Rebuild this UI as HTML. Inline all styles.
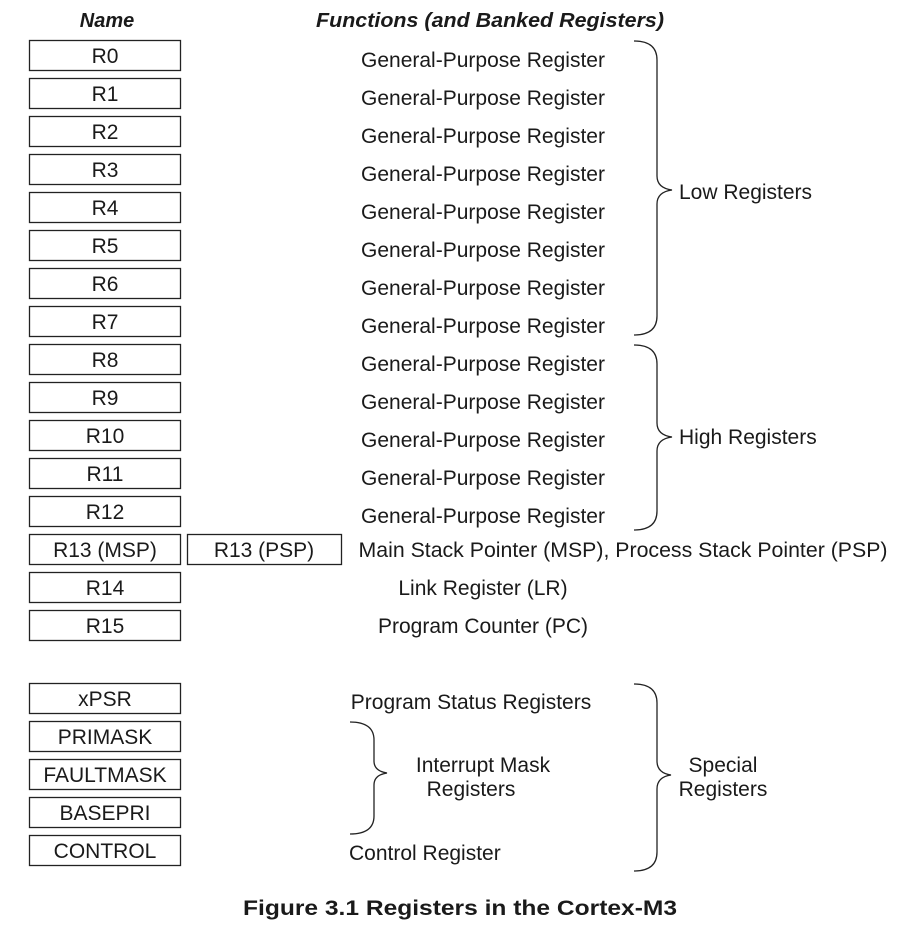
<!DOCTYPE html>
<html><head><meta charset="utf-8"><style>
html,body{margin:0;padding:0;background:#fff;}
svg{display:block;}
text{font-family:"Liberation Sans",Arial,sans-serif;fill:#1a1a1a;}
</style></head><body>
<svg width="922" height="932" viewBox="0 0 922 932" xmlns="http://www.w3.org/2000/svg">
<g font-size="20" font-style="italic" font-weight="bold">
<text x="107" y="27" text-anchor="middle">Name</text>
<text x="490" y="27" text-anchor="middle" textLength="348" lengthAdjust="spacingAndGlyphs">Functions (and Banked Registers)</text>
</g>
<g fill="none" stroke="#222" stroke-width="1.3">
<rect x="29.5" y="40.5" width="151" height="30"/>
<rect x="29.5" y="78.5" width="151" height="30"/>
<rect x="29.5" y="116.5" width="151" height="30"/>
<rect x="29.5" y="154.5" width="151" height="30"/>
<rect x="29.5" y="192.5" width="151" height="30"/>
<rect x="29.5" y="230.5" width="151" height="30"/>
<rect x="29.5" y="268.5" width="151" height="30"/>
<rect x="29.5" y="306.5" width="151" height="30"/>
<rect x="29.5" y="344.5" width="151" height="30"/>
<rect x="29.5" y="382.5" width="151" height="30"/>
<rect x="29.5" y="420.5" width="151" height="30"/>
<rect x="29.5" y="458.5" width="151" height="30"/>
<rect x="29.5" y="496.5" width="151" height="30"/>
<rect x="29.5" y="534.5" width="151" height="30"/>
<rect x="187.5" y="534.5" width="154" height="30"/>
<rect x="29.5" y="572.5" width="151" height="30"/>
<rect x="29.5" y="610.5" width="151" height="30"/>
<rect x="29.5" y="683.5" width="151" height="30"/>
<rect x="29.5" y="721.5" width="151" height="30"/>
<rect x="29.5" y="759.5" width="151" height="30"/>
<rect x="29.5" y="797.5" width="151" height="30"/>
<rect x="29.5" y="835.5" width="151" height="30"/>
<path d="M634 41 Q657 41 657 60 L657 176 Q657 188 672 190 Q657 192 657 204 L657 316 Q657 335 634 335"/>
<path d="M634 345 Q657 345 657 364 L657 423 Q657 435 672 437 Q657 439 657 451 L657 511 Q657 530 634 530"/>
<path d="M634 684 Q657 684 657 703 L657 761 Q657 773 671 775 Q657 777 657 789 L657 852 Q657 871 634 871"/>
<path d="M350 722 Q374 722 374 740 L374 761 Q374 771 387 773 Q374 775 374 785 L374 816 Q374 834 350 834"/>
</g>
<g font-size="21" text-anchor="middle">
<text x="105" y="63">R0</text>
<text x="105" y="101">R1</text>
<text x="105" y="139">R2</text>
<text x="105" y="177">R3</text>
<text x="105" y="215">R4</text>
<text x="105" y="253">R5</text>
<text x="105" y="291">R6</text>
<text x="105" y="329">R7</text>
<text x="105" y="367">R8</text>
<text x="105" y="405">R9</text>
<text x="105" y="443">R10</text>
<text x="105" y="481">R11</text>
<text x="105" y="519">R12</text>
<text x="105" y="557">R13 (MSP)</text>
<text x="264" y="557">R13 (PSP)</text>
<text x="105" y="595">R14</text>
<text x="105" y="633">R15</text>
<text x="105" y="706">xPSR</text>
<text x="105" y="744">PRIMASK</text>
<text x="105" y="782">FAULTMASK</text>
<text x="105" y="820">BASEPRI</text>
<text x="105" y="858">CONTROL</text>
</g>
<g font-size="21" text-anchor="middle">
<text x="483" y="67">General-Purpose Register</text>
<text x="483" y="105">General-Purpose Register</text>
<text x="483" y="143">General-Purpose Register</text>
<text x="483" y="181">General-Purpose Register</text>
<text x="483" y="219">General-Purpose Register</text>
<text x="483" y="257">General-Purpose Register</text>
<text x="483" y="295">General-Purpose Register</text>
<text x="483" y="333">General-Purpose Register</text>
<text x="483" y="371">General-Purpose Register</text>
<text x="483" y="409">General-Purpose Register</text>
<text x="483" y="447">General-Purpose Register</text>
<text x="483" y="485">General-Purpose Register</text>
<text x="483" y="523">General-Purpose Register</text>
<text x="623" y="557" textLength="529" lengthAdjust="spacingAndGlyphs">Main Stack Pointer (MSP), Process Stack Pointer (PSP)</text>
<text x="483" y="595">Link Register (LR)</text>
<text x="483" y="633">Program Counter (PC)</text>
<text x="471" y="709">Program Status Registers</text>
<text x="483" y="772">Interrupt Mask</text>
<text x="471" y="796">Registers</text>
<text x="723" y="772">Special</text>
<text x="723" y="796">Registers</text>
</g>
<g font-size="21">
<text x="679" y="199">Low Registers</text>
<text x="679" y="444">High Registers</text>
<text x="349" y="860">Control Register</text>
</g>
<text x="460" y="915" font-size="21" font-weight="bold" text-anchor="middle" textLength="434" lengthAdjust="spacingAndGlyphs">Figure 3.1  Registers in the Cortex-M3</text>
</svg>
</body></html>
